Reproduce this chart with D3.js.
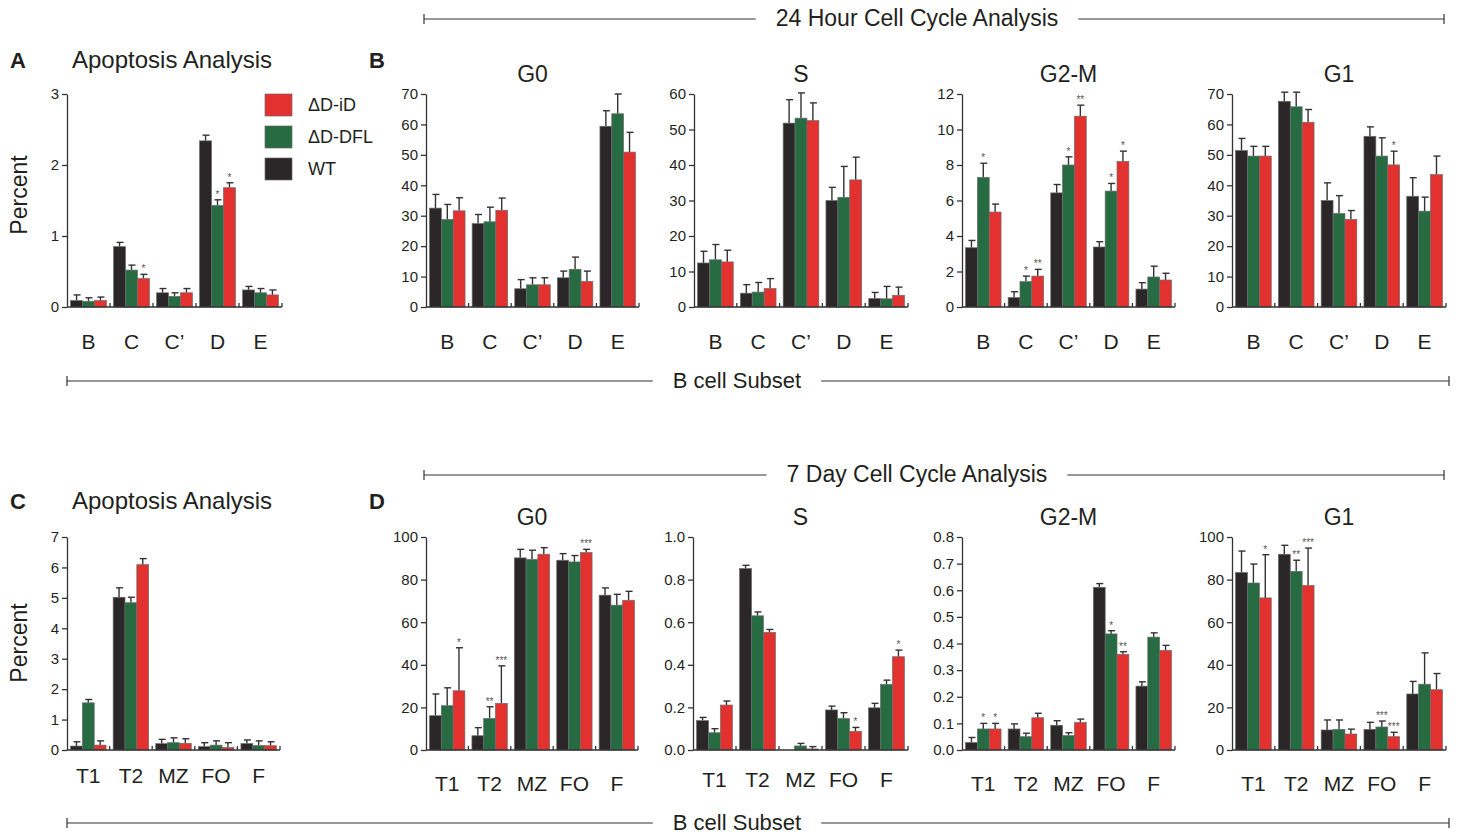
<!DOCTYPE html>
<html lang="en">
<head>
<meta charset="UTF-8">
<script src="https://d3js.org/d3.v7.min.js"></script>
<title>B cell apoptosis and cell cycle</title>
<style>
  body { margin: 0; background: #fff; }
  text { font-family: Arial, "Liberation Sans", sans-serif; fill: #231f20; }
</style>
</head>
<body>
<svg id="mainsvg" width="1458" height="834"></svg>
<script>
// series and categories
const series = ['WT', 'ΔD-DFL', 'ΔD-iD']
const colors = ['#2b2728', '#276b43', '#e3312f']
const subsets24 = ['B', 'C', 'C\u2019', 'D', 'E']
const subsets7 = ['T1', 'T2', 'MZ', 'FO', 'F']

// 24 hour: rows = WT, ΔD-DFL, ΔD-iD ; columns = subsets
const apo24Mean = [[0.09, 0.85, 0.20, 2.34, 0.24], [0.08, 0.52, 0.15, 1.43, 0.20], [0.09, 0.40, 0.20, 1.68, 0.17]]
const apo24Sem  = [[0.08, 0.06, 0.06, 0.08, 0.05], [0.05, 0.07, 0.05, 0.08, 0.06], [0.05, 0.06, 0.06, 0.07, 0.07]]
const apo24Sig  = [['', '', '', '', ''], ['', '', '', '*', ''], ['', '*', '', '*', '']]

const g0h24Mean = [[32.5, 27.4, 6.0, 9.6, 59.4], [28.8, 28.0, 7.3, 12.4, 63.5], [31.6, 31.8, 7.3, 8.4, 50.9]]
const g0h24Sem  = [[4.5, 3.0, 3.0, 2.2, 5.1], [4.9, 4.8, 2.3, 4.0, 6.5], [4.3, 4.0, 2.3, 3.4, 6.5]]

const sh24Mean = [[12.4, 3.9, 51.8, 30.0, 2.4], [13.3, 4.2, 53.2, 30.9, 2.3], [12.7, 5.2, 52.5, 35.8, 3.3]]
const sh24Sem  = [[3.3, 2.4, 6.6, 3.7, 1.7], [4.3, 2.7, 7.1, 8.7, 3.5], [3.3, 2.8, 5.0, 6.4, 2.3]]

const g2mh24Mean = [[3.34, 0.53, 6.43, 3.38, 1.01], [7.30, 1.43, 8.00, 6.53, 1.69], [5.35, 1.74, 10.75, 8.20, 1.52]]
const g2mh24Sem  = [[0.41, 0.33, 0.47, 0.30, 0.36], [0.80, 0.31, 0.46, 0.43, 0.61], [0.45, 0.38, 0.62, 0.58, 0.38]]
const g2mh24Sig  = [['', '', '', '', ''], ['*', '*', '*', '*', ''], ['', '**', '**', '*', '']]

const g1h24Mean = [[51.4, 67.6, 35.0, 56.1, 36.4], [49.6, 65.8, 30.7, 49.6, 31.5], [49.6, 60.7, 28.8, 46.7, 43.5]]
const g1h24Sem  = [[4.0, 3.0, 5.8, 3.1, 6.1], [3.2, 4.8, 5.9, 6.0, 4.6], [3.2, 4.2, 2.9, 4.5, 6.1]]
const g1h24Sig  = [['', '', '', '', ''], ['', '', '', '', ''], ['', '', '', '*', '']]

// 7 day
const apo7Mean = [[0.13, 5.02, 0.21, 0.11, 0.21], [1.55, 4.84, 0.24, 0.16, 0.15], [0.16, 6.09, 0.22, 0.08, 0.14]]
const apo7Sem  = [[0.14, 0.31, 0.14, 0.13, 0.12], [0.11, 0.18, 0.16, 0.14, 0.15], [0.14, 0.20, 0.15, 0.16, 0.13]]

const g0d7Mean = [[16.1, 6.7, 90.2, 89.1, 72.7], [20.8, 14.8, 89.5, 88.3, 68.0], [27.8, 21.9, 91.9, 92.7, 70.3]]
const g0d7Sem  = [[10.2, 3.8, 4.0, 3.1, 3.4], [8.4, 5.5, 4.3, 3.0, 5.1], [20.2, 17.6, 3.1, 1.5, 4.2]]
const g0d7Sig  = [['', '', '', '', ''], ['', '**', '', '', ''], ['*', '***', '', '***', '']]

const sd7Mean = [[0.138, 0.852, 0, 0.188, 0.198], [0.081, 0.630, 0.019, 0.148, 0.308], [0.211, 0.552, 0.005, 0.088, 0.438]]
const sd7Sem  = [[0.015, 0.015, 0, 0.018, 0.021], [0.019, 0.018, 0.012, 0.027, 0.020], [0.019, 0.014, 0.011, 0.018, 0.031]]
const sd7Sig  = [['', '', '', '', ''], ['', '', '', '', ''], ['', '', '', '*', '*']]

const g2md7Mean = [[0.028, 0.079, 0.093, 0.611, 0.240], [0.079, 0.050, 0.054, 0.436, 0.424], [0.079, 0.121, 0.103, 0.359, 0.374]]
const g2md7Sem  = [[0.019, 0.019, 0.017, 0.014, 0.016], [0.021, 0.013, 0.011, 0.012, 0.016], [0.021, 0.017, 0.013, 0.010, 0.019]]
const g2md7Sig  = [['', '', '', '', ''], ['*', '', '', '*', ''], ['*', '', '', '**', '']]

const g1d7Mean = [[83.3, 91.9, 9.4, 9.7, 26.3], [78.4, 83.9, 9.7, 10.8, 30.9], [71.4, 77.2, 7.5, 6.25, 28.3]]
const g1d7Sem  = [[10.1, 4.2, 4.7, 3.3, 5.9], [8.9, 5.2, 4.4, 2.8, 14.7], [20.3, 17.6, 2.3, 2.05, 7.6]]
const g1d7Sig  = [['', '', '', '', ''], ['', '**', '', '***', ''], ['*', '***', '', '***', '']]

const svg = d3.select('#mainsvg')
const noSig = [['', '', '', '', ''], ['', '', '', '', ''], ['', '', '', '', '']]

const top1 = 94, zero1 = 307, top2 = 537, zero2 = 750

const panels = [
  { x: 67,   w: 215, top: top1, zero: zero1, cats: subsets24, mean: apo24Mean, sem: apo24Sem, sig: apo24Sig, max: 3, step: 1, fmt: 'd', labelY: 349 },
  { x: 426,  w: 213, top: top1, zero: zero1, cats: subsets24, mean: g0h24Mean, sem: g0h24Sem, sig: noSig, max: 70, step: 10, fmt: 'd', labelY: 349, title: 'G0' },
  { x: 694,  w: 214, top: top1, zero: zero1, cats: subsets24, mean: sh24Mean, sem: sh24Sem, sig: noSig, max: 60, step: 10, fmt: 'd', labelY: 349, title: 'S' },
  { x: 962,  w: 213, top: top1, zero: zero1, cats: subsets24, mean: g2mh24Mean, sem: g2mh24Sem, sig: g2mh24Sig, max: 12, step: 2, fmt: 'd', labelY: 349, title: 'G2-M' },
  { x: 1232, w: 214, top: top1, zero: zero1, cats: subsets24, mean: g1h24Mean, sem: g1h24Sem, sig: g1h24Sig, max: 70, step: 10, fmt: 'd', labelY: 349, title: 'G1' },
  { x: 67,   w: 213, top: top2, zero: zero2, cats: subsets7, mean: apo7Mean, sem: apo7Sem, sig: noSig, max: 7, step: 1, fmt: 'd', labelY: 783 },
  { x: 426,  w: 212, top: top2, zero: zero2, cats: subsets7, mean: g0d7Mean, sem: g0d7Sem, sig: g0d7Sig, max: 100, step: 20, fmt: 'd', labelY: 791, title: 'G0' },
  { x: 693,  w: 215, top: top2, zero: zero2, cats: subsets7, mean: sd7Mean, sem: sd7Sem, sig: sd7Sig, max: 1.0, step: 0.2, fmt: '.1f', labelY: 787, title: 'S' },
  { x: 962,  w: 213, top: top2, zero: zero2, cats: subsets7, mean: g2md7Mean, sem: g2md7Sem, sig: g2md7Sig, max: 0.8, step: 0.1, fmt: '.1f', labelY: 791, title: 'G2-M' },
  { x: 1232, w: 214, top: top2, zero: zero2, cats: subsets7, mean: g1d7Mean, sem: g1d7Sem, sig: g1d7Sig, max: 100, step: 20, fmt: 'd', labelY: 791, title: 'G1' }
]

const drawPanel = function (p) {
  const h = p.zero - p.top
  const g = svg.append('g').attr('transform', `translate(${p.x}, ${p.top})`)
  const x0 = d3.scaleBand().domain(p.cats).range([0, p.w])
  const x1 = d3.scaleBand().domain(series).range([0, x0.bandwidth()]).paddingOuter(0.3)
  const y = d3.scaleLinear().domain([0, p.max]).range([h, 0])

  const yAxis = g.append('g').call(d3.axisLeft(y)
    .tickValues(d3.range(0, p.max + p.step / 2, p.step))
    .tickFormat(d3.format(p.fmt))
    .tickSize(5).tickSizeOuter(0).tickPadding(3))
  yAxis.select('.domain').attr('stroke', '#333').attr('stroke-width', 1.3)
  yAxis.selectAll('.tick line').attr('stroke', '#333').attr('stroke-width', 1.3)
  yAxis.selectAll('.tick text').attr('font-size', 15).attr('fill', '#333')
    .style('font-family', 'Arial, "Liberation Sans", sans-serif')

  series.forEach((s, i) => {
    const rows = p.cats.map((c, j) => ({ c: c, v: p.mean[i][j], e: p.sem[i][j], sig: p.sig[i][j] }))
    const sg = g.append('g')
    const cx = d => x0(d.c) + x1(s) + x1.bandwidth() / 2
    // error bars
    sg.selectAll('line.err').data(rows.filter(d => d.e > 0)).join('line')
      .attr('class', 'err')
      .attr('x1', cx).attr('x2', cx)
      .attr('y1', d => y(d.v)).attr('y2', d => y(d.v + d.e))
      .attr('stroke', '#333').attr('stroke-width', 1.4)
    sg.selectAll('line.cap').data(rows.filter(d => d.e > 0)).join('line')
      .attr('class', 'cap')
      .attr('x1', d => cx(d) - 3).attr('x2', d => cx(d) + 4)
      .attr('y1', d => y(d.v + d.e)).attr('y2', d => y(d.v + d.e))
      .attr('stroke', '#333').attr('stroke-width', 1.4)
    sg.selectAll('rect').data(rows.filter(d => d.v > 0)).join('rect')
      .attr('x', d => x0(d.c) + x1(s))
      .attr('y', d => y(d.v))
      .attr('width', x1.bandwidth())
      .attr('height', d => h - y(d.v))
      .attr('fill', colors[i])
      .attr('stroke', '#6b6b6b').attr('stroke-width', 0.7)
    sg.selectAll('text').data(rows.filter(d => d.sig)).join('text')
      .attr('x', cx).attr('y', d => y(d.v + d.e) - 2)
      .attr('text-anchor', 'middle').attr('font-size', 10)
      .style('fill', '#555')
      .text(d => d.sig)
  })

  // x axis with ticks at group boundaries
  g.append('line').attr('x1', 0).attr('x2', p.w).attr('y1', h).attr('y2', h)
    .attr('stroke', '#333').attr('stroke-width', 1.3)
  g.selectAll('line.xt').data(p.cats).join('line').attr('class', 'xt')
    .attr('x1', d => x0(d) + x0.bandwidth()).attr('x2', d => x0(d) + x0.bandwidth())
    .attr('y1', h).attr('y2', h - 4)
    .attr('stroke', '#333').attr('stroke-width', 1.3)
  g.selectAll('text.cat').data(p.cats).join('text').attr('class', 'cat')
    .attr('x', d => x0(d) + x0.bandwidth() / 2)
    .attr('y', p.labelY - p.top)
    .attr('text-anchor', 'middle').attr('font-size', 21)
    .text(d => d)

  if (p.title) {
    svg.append('text').attr('x', p.x + p.w / 2).attr('y', p.top - 12)
      .attr('text-anchor', 'middle').attr('font-size', 23).text(p.title)
  }
}

panels.forEach(drawPanel)

// panel letters and apoptosis titles
const letters = [['A', 10, 68], ['B', 369, 68], ['C', 10, 509], ['D', 369, 509]]
svg.selectAll('text.letter').data(letters).join('text').attr('class', 'letter')
  .attr('x', d => d[1]).attr('y', d => d[2])
  .attr('font-size', 22).attr('font-weight', 'bold').text(d => d[0])
svg.append('text').attr('x', 72).attr('y', 68).attr('font-size', 24).text('Apoptosis Analysis')
svg.append('text').attr('x', 72).attr('y', 509).attr('font-size', 24).text('Apoptosis Analysis')

// y titles
const yTitles = [[195], [643]]
yTitles.forEach(d => {
  svg.append('text').attr('transform', `translate(27, ${d[0]}) rotate(-90)`)
    .attr('text-anchor', 'middle').attr('font-size', 23).text('Percent')
})

// legend
const legend = svg.append('g').attr('transform', 'translate(265, 94)')
const legendRows = [[2, 0], [1, 32], [0, 64]]
legendRows.forEach(r => {
  legend.append('rect').attr('x', 0).attr('y', r[1]).attr('width', 27).attr('height', 22)
    .attr('fill', colors[r[0]]).attr('stroke', '#6b6b6b').attr('stroke-width', 0.7)
  legend.append('text').attr('x', 43).attr('y', r[1] + 17).attr('font-size', 18).text(series[r[0]])
})

// bracket headers
const bracket = function (xa, xb, y, cx, label, size) {
  const t = svg.append('text').attr('x', cx).attr('y', y + 7)
    .attr('text-anchor', 'middle').attr('font-size', size).text(label)
  const bb = t.node().getBBox()
  const gap = 20
  const segs = [[xa, bb.x - gap], [bb.x + bb.width + gap, xb]]
  segs.forEach(s => {
    svg.append('line').attr('x1', s[0]).attr('x2', s[1]).attr('y1', y).attr('y2', y)
      .attr('stroke', '#333').attr('stroke-width', 1.2)
  })
  ;[xa, xb].forEach(xx => {
    svg.append('line').attr('x1', xx).attr('x2', xx).attr('y1', y - 5).attr('y2', y + 5)
      .attr('stroke', '#333').attr('stroke-width', 1.2)
  })
}
bracket(424, 1444, 19, 917, '24 Hour Cell Cycle Analysis', 23)
bracket(67, 1449, 381, 737, 'B cell Subset', 22)
bracket(424, 1444, 475, 917, '7 Day Cell Cycle Analysis', 23)
bracket(67, 1449, 823, 737, 'B cell Subset', 22)
</script>
</body>
</html>
